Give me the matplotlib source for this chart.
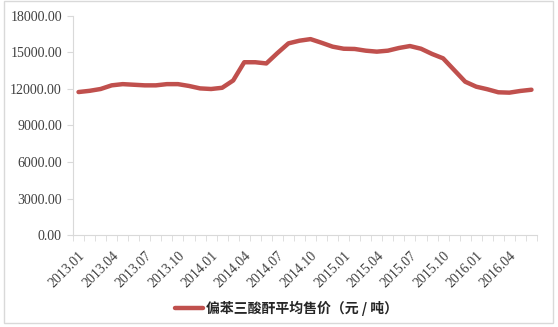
import matplotlib.pyplot as plt
from matplotlib.patches import Rectangle
from matplotlib.ticker import FuncFormatter

# monthly average selling price, 2013.01 - 2016.06 (yuan / ton)
prices = [11750, 11850, 12000, 12300, 12400, 12350, 12300, 12300, 12400, 12400,
          12250, 12050, 12000, 12100, 12700, 14200, 14200, 14100, 14950, 15750,
          15970, 16100, 15800, 15480, 15310, 15290, 15150, 15070, 15150, 15370,
          15530, 15310, 14880, 14520, 13560, 12600, 12190, 11980, 11730, 11700,
          11840, 11940]
tick_labels = ['2013.01', '2013.04', '2013.07', '2013.10', '2014.01', '2014.04', '2014.07',
               '2014.10', '2015.01', '2015.04', '2015.07', '2015.10', '2016.01', '2016.04']
series_name = '偏苯三酸酐平均售价（元 / 吨）'

line_color = '#C0504D'
axis_color = '#D9D9D9'
text_color = '#404040'

fig = plt.figure(figsize=(5.58, 3.27), dpi=100)
fig.patches.append(Rectangle((4 / 558, 4 / 327), 549 / 558, 322 / 327,
                             transform=fig.transFigure, fill=False,
                             edgecolor=axis_color, linewidth=1))

ax = fig.add_axes([73 / 558, 1 - 235 / 327, 464 / 558, 219 / 327])
x = list(range(len(prices)))
ax.plot(x, prices, color=line_color, linewidth=3.2, solid_capstyle='round',
        solid_joinstyle='round', label=series_name)

ax.set_xlim(-0.5, len(prices) - 0.5)
ax.set_ylim(0, 18000)
ax.set_yticks(range(0, 18001, 3000))
ax.yaxis.set_major_formatter(FuncFormatter(lambda v, p: f'{v:.2f}'))

ax.set_xticks(range(0, 3 * len(tick_labels), 3))
ax.set_xticklabels(tick_labels, rotation=45, ha='right', va='top', rotation_mode='anchor')
ax.set_xticks([i - 0.5 for i in range(len(prices) + 1)], minor=True)
ax.tick_params(axis='x', which='major', length=0, pad=10)
ax.tick_params(axis='x', which='minor', length=4, color=axis_color, direction='out')
ax.tick_params(axis='y', length=4, color=axis_color, pad=4)

for lab in ax.get_xticklabels() + ax.get_yticklabels():
    lab.set_family('Liberation Serif')
    lab.set_fontsize(10)
    lab.set_color(text_color)

for side in ['top', 'right']:
    ax.spines[side].set_visible(False)
for side in ['left', 'bottom']:
    ax.spines[side].set_color(axis_color)

fig.legend(loc='center', bbox_to_anchor=(0.513, 0.058), frameon=False,
           handlelength=2.0, handletextpad=0.2,
           prop={'family': ['Noto Sans CJK SC', 'DejaVu Sans'], 'size': 10, 'weight': 'bold'},
           labelcolor='#262626')

fig.savefig('out.png', dpi=100)
